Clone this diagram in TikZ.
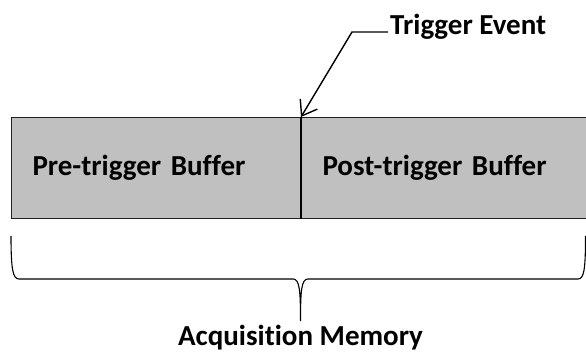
\documentclass[tikz,border=0pt]{standalone}
\usepackage{fontspec}
\setmainfont{Carlito}[Ligatures=NoCommon]
\usetikzlibrary{arrows.meta,positioning,calc}
\definecolor{bufgray}{HTML}{C0C0C0}
\definecolor{edge}{HTML}{202020}

\begin{document}
\begin{tikzpicture}[
  x=1pt,y=-1pt,
  buf/.style={draw=edge,line width=1pt,fill=bufgray,anchor=north west,align=left,minimum height=101pt,inner xsep=21pt,font=\fontsize{29}{34}\selectfont\bfseries},
  lbl/.style={inner sep=0pt,font=\fontsize{29}{34}\selectfont\bfseries},
  arr/.style={-{Straight Barb[length=14pt,width=20pt,line width=1.4pt]},line width=1.4pt},
  brc/.style={line width=1.1pt,draw=black}
]
\useasboundingbox (0,0) rectangle (586,352);
\node[buf,minimum width=289pt,text width=247pt] (pre) at (11,117) {Pre-trigger Buffer};
\node[buf,minimum width=286pt,text width=244pt] (post) at (pre.north east) {Post-trigger Buffer};
\draw[line width=2pt] (pre.north east) -- (pre.south east);
% trigger label
\node[lbl,anchor=base west] (trig) at (390,35) {Trigger Event};
\coordinate (knee) at (352,32);
\draw[arr] ($(trig.base west)+(-2,-3)$) -- (knee) -- (pre.north east);
% brace under both buffers
\coordinate (bl) at (11,236);
\coordinate (br) at (585.5,236);
\coordinate (tip) at (300.5,321);
\draw[brc] (bl) .. controls (11,270) and (13,279) .. (19,279) -- (293,279)
  .. controls (299.5,279) and (300.5,290) .. (tip)
  .. controls (300.5,290) and (301.5,279) .. (308,279) -- (578,279)
  .. controls (584,279) and (585.5,270) .. (br);
\node[lbl,anchor=base] (acq) at (300.5,345) {Acquisition Memory};
\end{tikzpicture}
\end{document}
